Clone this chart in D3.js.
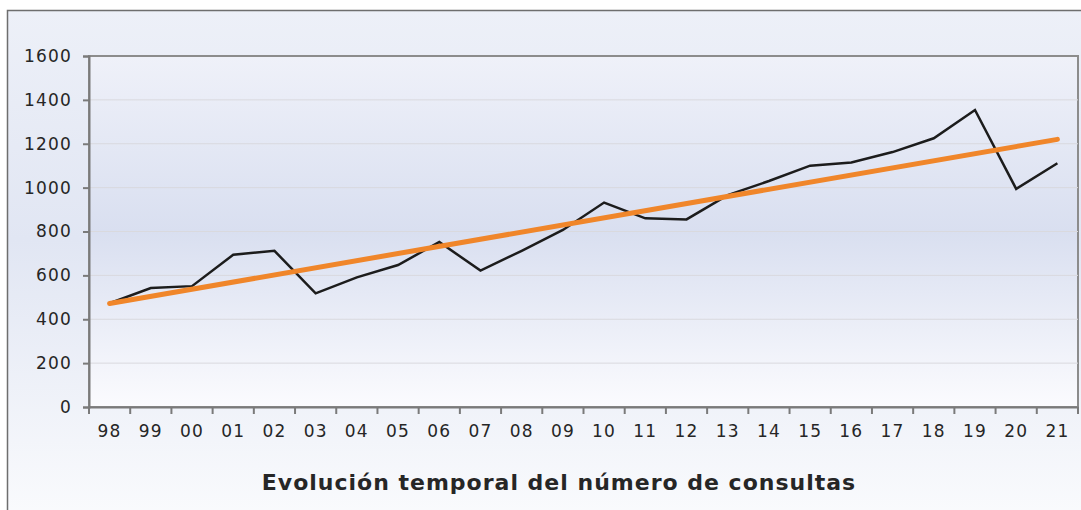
<!DOCTYPE html>
<html>
<head>
  <meta charset="utf-8">
  <title>Evolución temporal del número de consultas</title>
  <style>
    body { margin: 0; background: #fff; }
    text { font-family: "DejaVu Sans", Verdana, sans-serif; fill: #262626; }
    .axis path, .axis line { stroke: #7a7a7a; stroke-width: 2; }
    .grid line { stroke: #d9d9de; stroke-width: 1; }
  </style>
  <script src="https://cdn.jsdelivr.net/npm/d3@7"></script>
</head>
<body>
<script>
// data
var years = ["98","99","00","01","02","03","04","05","06","07","08","09",
             "10","11","12","13","14","15","16","17","18","19","20","21"];
var consultas = [473, 542, 551, 694, 712, 518, 591, 647, 752, 622, 712, 807,
                 932, 860, 855, 966, 1030, 1100, 1115, 1162, 1225, 1354, 994, 1111];
var trendYears = ["98", "21"];
var trendValues = [472, 1220];
var yTicks = [0, 200, 400, 600, 800, 1000, 1200, 1400, 1600];

var W = 1081, H = 510;
var margin = {top: 56, right: 3, bottom: 103, left: 89},
    width = 1078 - margin.left,
    height = 407 - margin.top;

var svg = d3.select("body").append("svg")
    .attr("width", W)
    .attr("height", H);

var defs = svg.append("defs");
var outerGrad = defs.append("linearGradient")
    .attr("id", "outerGrad").attr("x1", 0).attr("y1", 0).attr("x2", 0).attr("y2", 1);
outerGrad.append("stop").attr("offset", "0%").attr("stop-color", "#edf0f8");
outerGrad.append("stop").attr("offset", "45%").attr("stop-color", "#e1e6f3");
outerGrad.append("stop").attr("offset", "100%").attr("stop-color", "#fafbfd");

var plotGrad = defs.append("linearGradient")
    .attr("id", "plotGrad").attr("x1", 0).attr("y1", 0).attr("x2", 0).attr("y2", 1);
plotGrad.append("stop").attr("offset", "0%").attr("stop-color", "#eff1f9");
plotGrad.append("stop").attr("offset", "50%").attr("stop-color", "#d9dff0");
plotGrad.append("stop").attr("offset", "100%").attr("stop-color", "#fbfbfe");

// outer frame
svg.append("rect")
    .attr("x", 7.5).attr("y", 10.5)
    .attr("width", W).attr("height", H)
    .attr("fill", "url(#outerGrad)")
    .attr("stroke", "#6e6e6e")
    .attr("stroke-width", 1.5);

var g = svg.append("g")
    .attr("transform", "translate(" + margin.left + "," + margin.top + ")");

var x = d3.scaleBand().domain(years).range([0, width]).padding(0);
var y = d3.scaleLinear().domain([0, 1600]).range([height, 0]);

// plot area
g.append("rect")
    .attr("width", width).attr("height", height)
    .attr("fill", "url(#plotGrad)")
    .attr("stroke", "#8c8c8c")
    .attr("stroke-width", 2);

// gridlines
g.append("g").attr("class", "grid")
    .selectAll("line")
    .data(yTicks.slice(1, -1))
    .enter().append("line")
    .attr("x1", 0).attr("x2", width)
    .attr("y1", function(d) { return y(d); })
    .attr("y2", function(d) { return y(d); });

// y axis
var yAxis = g.append("g").attr("class", "axis")
    .call(d3.axisLeft(y).tickValues(yTicks).tickFormat(d3.format("d"))
        .tickSize(6).tickPadding(11));
yAxis.selectAll("text")
    .style("font-size", "17px")
    .style("letter-spacing", "1.2px");

// x axis, ticks on band edges
var xAxis = g.append("g").attr("class", "axis")
    .attr("transform", "translate(0," + height + ")")
    .call(d3.axisBottom(x).tickSize(0).tickPadding(18));
xAxis.selectAll("text")
    .style("font-size", "17px")
    .style("letter-spacing", "1.2px");
xAxis.selectAll(".edge")
    .data(years.concat(["end"]))
    .enter().append("line")
    .attr("class", "edge")
    .attr("x1", function(d, i) { return i * x.step(); })
    .attr("x2", function(d, i) { return i * x.step(); })
    .attr("y1", 0).attr("y2", 7);

var cx = function(d) { return x(d) + x.bandwidth() / 2; };

// data line
g.append("path")
    .datum(consultas)
    .attr("fill", "none")
    .attr("stroke", "#1c1c1c")
    .attr("stroke-width", 2.5)
    .attr("stroke-linejoin", "miter")
    .attr("d", d3.line()
        .x(function(d, i) { return cx(years[i]); })
        .y(function(d) { return y(d); }));

// linear trend
g.append("path")
    .datum(trendValues)
    .attr("fill", "none")
    .attr("stroke", "#f0862a")
    .attr("stroke-width", 5)
    .attr("stroke-linecap", "round")
    .attr("d", d3.line()
        .x(function(d, i) { return cx(trendYears[i]); })
        .y(function(d) { return y(d); }));

// title
svg.append("text")
    .attr("x", 559).attr("y", 490)
    .attr("text-anchor", "middle")
    .style("font-size", "22px")
    .style("font-weight", "bold")
    .style("letter-spacing", "1px")
    .text("Evolución temporal del número de consultas");
</script>
</body>
</html>
